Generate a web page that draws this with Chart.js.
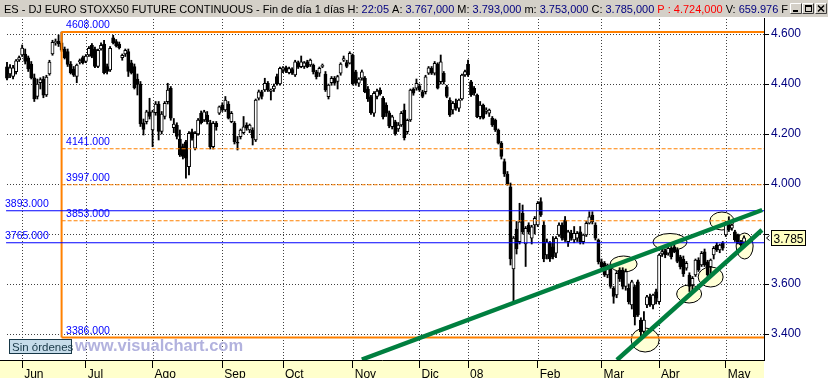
<!DOCTYPE html>
<html><head><meta charset="utf-8">
<script src="https://cdn.jsdelivr.net/npm/chart.js@4.4.1/dist/chart.umd.min.js"></script>
<style>html,body{margin:0;padding:0;background:#fff;overflow:hidden}canvas{display:block}</style>
</head><body>
<canvas id="c" width="828" height="378"></canvas>
<script>
// ---- DATA (daily candles, late May 2007 .. mid May 2008) ----
const opens = [4469,4440,4430,4449,4496,4516,4520,4505,4480,4425,4350,4405,4420,4356,4440,4520,4565,4572,4565,4540,
4530,4480,4460,4430,4488,4506,4490,4516,4555,4540,4470,4540,4560,4470,4456,4585,4570,4560,4505,4520,
4530,4485,4470,4420,4400,4245,4249,4289,4216,4285,4320,4210,4270,4329,4383,4225,4235,4180,4150,4169,
4069,4209,4143,4200,4283,4256,4276,4245,4149,4243,4283,4316,4296,4320,4249,4243,4165,4189,4205,4236,
4216,4216,4176,4343,4369,4376,4403,4370,4380,4430,4400,4456,4466,4445,4458,4436,4485,4469,4470,4489,
4476,4476,4449,4443,4470,4440,4349,4405,4423,4410,4443,4495,4486,4483,4515,4449,4403,4423,4423,4380,
4349,4283,4350,4376,4343,4316,4285,4229,4249,4220,4236,4296,4209,4256,4380,4383,4393,4369,4369,4443,
4463,4443,4479,4409,4443,4389,4336,4296,4323,4303,4340,4436,4479,4409,4383,4356,4269,4316,4290,4283,
4263,4256,4216,4163,4090,4040,3989,3660,3820,3769,3883,3760,3836,3783,3836,3836,3930,3836,3716,3763,
3749,3723,3796,3836,3856,3769,3803,3776,3783,3809,3769,3796,3843,3876,3836,3776,3689,3683,3636,3670,
3583,3556,3656,3656,3590,3583,3516,3589,3609,3456,3410,3516,3549,3516,3569,3529,3720,3733,3723,3743,
3749,3736,3709,3700,3663,3636,3596,3636,3696,3676,3729,3689,3669,3716,3756,3736,3763,3796,3843,3823,
3809,3796,3769,3767];
const highs = [4487,4478,4475,4498,4512,4556,4540,4512,4490,4440,4420,4425,4430,4435,4495,4575,4580,4596,4608,4548,
4540,4490,4470,4480,4500,4512,4518,4550,4562,4548,4540,4565,4575,4480,4550,4595,4578,4568,4520,4540,
4540,4495,4480,4440,4410,4260,4295,4343,4295,4330,4330,4290,4330,4403,4390,4262,4245,4216,4160,4175,
4210,4220,4210,4262,4292,4295,4290,4255,4250,4250,4312,4325,4350,4330,4290,4250,4190,4220,4270,4245,
4240,4225,4340,4376,4375,4423,4410,4380,4400,4440,4468,4470,4472,4468,4465,4495,4492,4512,4490,4495,
4500,4480,4455,4468,4480,4450,4400,4430,4430,4435,4485,4512,4495,4529,4520,4455,4425,4456,4430,4390,
4355,4370,4380,4385,4350,4325,4292,4275,4255,4246,4290,4320,4260,4380,4385,4420,4400,4375,4435,4470,
4470,4490,4485,4516,4450,4395,4345,4330,4340,4340,4440,4456,4496,4415,4390,4360,4330,4320,4305,4300,
4270,4260,4220,4170,4100,4050,4004,3790,3850,3923,3916,3830,3845,3835,3870,3930,3945,3850,3780,3770,
3790,3790,3845,3845,3870,3815,3815,3830,3810,3830,3800,3850,3889,3889,3845,3780,3700,3690,3680,3680,
3590,3650,3665,3665,3660,3600,3615,3595,3616,3465,3490,3555,3560,3560,3580,3720,3745,3740,3750,3750,
3770,3745,3715,3712,3690,3645,3630,3700,3705,3730,3740,3695,3700,3750,3765,3760,3770,3850,3869,3840,
3815,3800,3775,3793];
const lows = [4416,4425,4420,4440,4490,4510,4480,4450,4420,4330,4340,4380,4345,4350,4435,4515,4555,4550,4530,4500,
4470,4440,4430,4405,4480,4480,4485,4510,4505,4465,4465,4535,4440,4440,4450,4560,4548,4540,4495,4510,
4430,4440,4380,4356,4230,4196,4240,4260,4149,4275,4176,4200,4260,4320,4255,4205,4180,4110,4100,4023,
4036,4175,4136,4195,4240,4250,4240,4140,4140,4215,4278,4290,4290,4260,4245,4160,4136,4180,4200,4215,
4205,4156,4170,4336,4340,4370,4370,4336,4370,4395,4395,4445,4445,4440,4438,4430,4462,4465,4462,4465,
4470,4440,4420,4430,4465,4370,4340,4395,4395,4380,4435,4490,4465,4480,4396,4395,4390,4415,4365,4330,
4278,4270,4340,4355,4260,4270,4225,4220,4195,4210,4230,4176,4200,4250,4355,4375,4370,4345,4360,4438,
4438,4436,4380,4400,4400,4345,4270,4280,4295,4290,4335,4430,4430,4350,4355,4265,4260,4260,4280,4270,
4230,4210,4160,4100,4030,3995,3676,3523,3720,3760,3800,3670,3800,3760,3800,3830,3870,3689,3700,3690,
3700,3705,3790,3775,3770,3750,3775,3765,3770,3760,3760,3790,3840,3840,3776,3680,3660,3630,3625,3583,
3523,3545,3610,3580,3575,3520,3500,3436,3470,3386,3400,3505,3510,3500,3520,3520,3710,3705,3715,3700,
3725,3685,3660,3630,3655,3570,3570,3630,3650,3670,3670,3630,3640,3700,3730,3725,3735,3790,3810,3815,
3770,3760,3745,3753];
const closes = [4423,4465,4465,4493,4506,4544,4490,4460,4425,4340,4400,4418,4355,4428,4488,4567,4570,4560,4535,4505,
4478,4445,4435,4476,4494,4485,4512,4543,4510,4470,4535,4555,4445,4450,4543,4565,4552,4545,4515,4535,
4450,4445,4385,4398,4240,4218,4289,4270,4289,4320,4210,4280,4323,4376,4263,4240,4190,4116,4110,4103,
4203,4183,4203,4256,4245,4289,4249,4149,4243,4229,4309,4296,4336,4263,4283,4169,4163,4216,4229,4223,
4236,4183,4336,4369,4350,4403,4376,4376,4392,4400,4463,4465,4450,4462,4443,4489,4467,4489,4485,4469,
4496,4449,4429,4463,4475,4376,4396,4423,4403,4430,4480,4502,4470,4523,4400,4403,4420,4449,4369,4340,
4285,4363,4372,4360,4268,4283,4232,4269,4200,4236,4283,4185,4255,4376,4363,4403,4376,4350,4429,4465,
4443,4483,4383,4489,4409,4350,4276,4323,4303,4336,4436,4450,4436,4356,4363,4269,4316,4263,4296,4296,
4236,4216,4163,4110,4040,4000,3700,3784,3740,3849,3809,3823,3809,3829,3863,3923,3876,3700,3769,3700,
3709,3783,3836,3783,3776,3809,3783,3803,3803,3769,3796,3843,3869,3849,3783,3689,3669,3636,3676,3590,
3550,3643,3620,3590,3650,3529,3609,3469,3476,3409,3456,3549,3516,3556,3543,3716,3730,3716,3743,3709,
3729,3690,3669,3640,3683,3590,3623,3696,3656,3723,3676,3636,3696,3743,3736,3756,3743,3843,3816,3836,
3776,3769,3756,3785];

const monthTickIndex = [5, 26, 48, 71, 91, 114, 136, 152, 175, 196, 215, 237];
const monthLabels = ['Jun','Jul','Ago','Sep','Oct','Nov','Dic','08','Feb','Mar','Abr','May'];
const yTickValues = [3400, 3600, 3800, 4000, 4200, 4400, 4600];
const highDayIndex = 18;                       // day of the 4608 high
const orangeSolidLevels = [4608, 3386];
const orangeDashedLevels = [4141, 3997, 3853];
const orangeLabelLevels = [4608, 4141, 3997, 3853, 3386];
const orangeLabels = ['4608.000','4141.000','3997.000','3853.000','3386.000'];
const blueLevels = [3893, 3765];
const blueLabels = ['3893.000', '3765.000'];
const blueStartIndex = -0.3;
const upperTrend = [[117, 3298], [249, 3896]];
const lowerTrend = [[201.1, 3296], [248.9, 3816]];
const ellipseCenters = [[203.3,3680],[218.6,3768],[235.7,3852],[243.2,3752],[232.0,3628],[224.9,3560],[210.4,3376]];
const lastClose = 3785;

// ---- styles / layout ----
const ellipseRadii = [[13.5,8],[17,8.5],[12,9],[8.5,13],[12.5,10],[12.5,9],[14,12]];
const X_MIN = -7/3.033, X_MAX = X_MIN + 764/3.033;
const FONT = "'Liberation Sans', Arial, sans-serif";
Chart.defaults.font.family = FONT;

const idx = opens.map((_, i) => i);
const wickData = idx.map(i => ({x: i, y: [lows[i], highs[i]]}));
const bodyData = idx.map(i => ({x: i, y: [opens[i], closes[i]]}));
const bodyColors = idx.map(i => closes[i] >= opens[i] ? '#ffffff' : '#000000');

function seg(x1, y1, x2, y2) { return [{x: x1, y: y1}, {x: x2, y: y2}]; }
const lineDs = (data, color, width, dash, order) => ({
  type: 'line', data, borderColor: color, borderWidth: width, borderDash: dash || [],
  pointRadius: 0, pointHoverRadius: 0, fill: false, tension: 0, order, borderCapStyle: 'butt'
});

const datasets = [
  {type: 'bar', data: wickData, backgroundColor: '#000', borderWidth: 0, barThickness: 1.2, grouped: false, order: 10},
  {type: 'bar', data: bodyData, backgroundColor: bodyColors, borderColor: '#000', borderWidth: 1,
   borderSkipped: false, barThickness: 3.2, grouped: false, minBarLength: 1, order: 9},
];
orangeSolidLevels.forEach(v => datasets.push(lineDs(seg(highDayIndex, v, X_MAX, v), '#ff8000', 2, null, 5)));
datasets.push(lineDs(seg(highDayIndex, orangeSolidLevels[1], highDayIndex, orangeSolidLevels[0]), '#ff8000', 2, null, 5));
orangeDashedLevels.forEach(v => datasets.push(lineDs(seg(highDayIndex, v, X_MAX, v), '#ff8000', 1, [4, 2], 5)));
blueLevels.forEach(v => datasets.push(lineDs(seg(blueStartIndex, v, X_MAX, v), '#0000ff', 1, null, 4)));
datasets.push(lineDs(seg(upperTrend[0][0], upperTrend[0][1], upperTrend[1][0], upperTrend[1][1]), '#007f3f', 4.5, null, 1));
datasets.push(lineDs(seg(lowerTrend[0][0], lowerTrend[0][1], lowerTrend[1][0], lowerTrend[1][1]), '#007f3f', 4.5, null, 1));

const bgPlugin = {
  id: 'bg',
  beforeDraw(chart) {
    const {ctx, chartArea: a} = chart;
    ctx.save();
    ctx.fillStyle = '#ffffff'; ctx.fillRect(0, 0, 828, 378);
    ctx.fillStyle = '#ffffcc'; ctx.fillRect(0, a.bottom, a.right, 378 - a.bottom);
    ctx.restore();
  }
};

// dotted grid at the scales' own tick positions (pixel dots), then the highlight ellipses
const underlayPlugin = {
  id: 'underlay',
  beforeDatasetsDraw(chart) {
    const {ctx, chartArea: a, scales: {x, y}} = chart;
    ctx.save();
    ctx.fillStyle = '#404040';
    y.ticks.forEach(t => {
      const py = Math.round(y.getPixelForValue(t.value));
      for (let px = Math.round(a.left) + 7; px < a.right; px += 3) ctx.fillRect(px, py, 1, 1);
    });
    x.ticks.forEach(t => {
      const px = Math.round(x.getPixelForValue(t.value));
      for (let py = Math.round(a.top) + 1; py < a.bottom; py += 3) ctx.fillRect(px, py, 1, 1);
    });
    ctx.beginPath(); ctx.rect(a.left, a.top, a.right - a.left, a.bottom - a.top); ctx.clip();
    ellipseCenters.forEach((c, k) => {
      const px = x.getPixelForValue(c[0]), py = y.getPixelForValue(c[1]);
      ctx.beginPath();
      ctx.ellipse(px, py, ellipseRadii[k][0], ellipseRadii[k][1], 0, 0, Math.PI * 2);
      ctx.fillStyle = '#ffffd6'; ctx.fill();
      ctx.lineWidth = 1; ctx.strokeStyle = '#000'; ctx.stroke();
    });
    ctx.restore();
  }
};

const overlayPlugin = {
  id: 'overlay',
  afterDraw(chart) {
    const {ctx, chartArea: a, scales: {x, y}} = chart;
    ctx.save();
    // level labels
    ctx.font = '10.5px ' + FONT; ctx.textBaseline = 'alphabetic'; ctx.fillStyle = '#0000ff';
    const lx = x.getPixelForValue(highDayIndex) + 4.5;
    orangeLabelLevels.forEach((v, k) => ctx.fillText(orangeLabels[k], lx, y.getPixelForValue(v) - 4));
    blueLevels.forEach((v, k) => ctx.fillText(blueLabels[k], a.left + 5, y.getPixelForValue(v) - 4));

    // watermark + status box
    ctx.font = 'bold 16.5px ' + FONT;
    ctx.fillStyle = 'rgb(178,178,222)';
    ctx.fillText('www.visualchart.com', 75, 351);
    ctx.fillStyle = '#c6dcea'; ctx.fillRect(9.5, 339.5, 62, 14);
    ctx.strokeStyle = '#173746'; ctx.lineWidth = 1; ctx.strokeRect(9.5, 339.5, 62, 14);
    ctx.font = '11.5px ' + FONT; ctx.fillStyle = '#173746';
    ctx.fillText('Sin órdenes', 12, 351);

    // last price marker
    const py = Math.round(y.getPixelForValue(lastClose));
    ctx.fillStyle = '#ffffc0'; ctx.fillRect(771.5, py - 7.5, 34, 15);
    ctx.strokeStyle = '#000'; ctx.strokeRect(771.5, py - 7.5, 34, 15);
    ctx.fillStyle = '#000'; ctx.font = '12px ' + FONT; ctx.textAlign = 'center';
    ctx.fillText((lastClose / 1000).toFixed(3), 788.5, py + 4.5);
    ctx.textAlign = 'left';
    ctx.beginPath(); ctx.moveTo(769.5, py - 2.5); ctx.lineTo(766.5, py); ctx.lineTo(769.5, py + 2.5); ctx.stroke();

    // title bar
    ctx.fillStyle = '#d4d0c8'; ctx.fillRect(0, 0, 828, 17);
    const parts = [
      ['ES - DJ EURO STOXX50 FUTURE CONTINUOUS - Fin de día 1 días ', '#000'], ['H: ', '#000'], ['22:05', '#000080'],
      [' A: ', '#000'], ['3.767,000', '#000080'], [' M: ', '#000'], ['3.793,000', '#000080'],
      [' m: ', '#000'], ['3.753,000', '#000080'], [' C: ', '#000'], ['3.785,000', '#000080'],
      [' P : 4.724,000', '#ff0000'], [' V: ', '#000'], ['659.976', '#000080'], [' F', '#000']];
    let fs = 11;
    ctx.font = fs + 'px ' + FONT;
    let w = parts.reduce((s, p) => s + ctx.measureText(p[0]).width, 0);
    fs = fs * 785 / w; ctx.font = fs.toFixed(2) + 'px ' + FONT;
    let tx = 4;
    parts.forEach(p => { ctx.fillStyle = p[1]; ctx.fillText(p[0], tx, 13); tx += ctx.measureText(p[0]).width; });
    // window buttons
    const btn = (bx, glyph) => {
      ctx.fillStyle = '#d4d0c8'; ctx.fillRect(bx, 3, 12, 11);
      ctx.strokeStyle = '#fff'; ctx.beginPath(); ctx.moveTo(bx + 0.5, 13.5); ctx.lineTo(bx + 0.5, 3.5); ctx.lineTo(bx + 11.5, 3.5); ctx.stroke();
      ctx.strokeStyle = '#404040'; ctx.beginPath(); ctx.moveTo(bx + 0.5, 13.5); ctx.lineTo(bx + 11.5, 13.5); ctx.lineTo(bx + 11.5, 3.5); ctx.stroke();
      ctx.strokeStyle = '#000'; ctx.fillStyle = '#000'; ctx.lineWidth = 1;
      if (glyph === 0) ctx.fillRect(bx + 3, 10, 5, 2);
      if (glyph === 1) { ctx.strokeRect(bx + 3.5, 5.5, 6, 6); ctx.fillRect(bx + 3, 5, 7, 2); }
      if (glyph === 2) { ctx.lineWidth = 1.5; ctx.beginPath(); ctx.moveTo(bx + 3, 5.5); ctx.lineTo(bx + 9, 11.5); ctx.moveTo(bx + 9, 5.5); ctx.lineTo(bx + 3, 11.5); ctx.stroke(); ctx.lineWidth = 1; }
    };
    btn(790, 0); btn(802, 1); btn(815, 2);
    ctx.restore();
  }
};

new Chart(document.getElementById('c'), {
  type: 'bar',
  data: {datasets},
  plugins: [bgPlugin, underlayPlugin, overlayPlugin],
  options: {
    responsive: false, animation: false, devicePixelRatio: 1,
    layout: {padding: {top: 18, left: 0, right: 0, bottom: 0}},
    plugins: {legend: {display: false}, tooltip: {enabled: false}},
    events: [],
    scales: {
      x: {
        type: 'linear', min: X_MIN, max: X_MAX, offset: false,
        afterBuildTicks: s => { s.ticks = monthTickIndex.map(v => ({value: v})); },
        afterFit: s => { s.height = 18; },
        ticks: {
          autoSkip: false, maxRotation: 0, minRotation: 0, align: 'start', labelOffset: 2, padding: -1,
          color: '#000', font: {size: 12, family: FONT},
          callback: v => { const k = monthTickIndex.indexOf(v); return k >= 0 ? monthLabels[k] : ''; }
        },
        grid: {display: true, drawOnChartArea: false, color: '#000', lineWidth: 1, drawTicks: true, tickLength: 8, tickColor: '#000', offset: false},
        border: {display: true, color: '#000', width: 1}
      },
      y: {
        type: 'linear', position: 'right', min: 3296, max: 4664,
        afterBuildTicks: s => { s.ticks = yTickValues.map(v => ({value: v})); },
        afterFit: s => { s.width = 64; },
        ticks: {
          color: '#000080', padding: 2, font: {size: 12, family: FONT},
          callback: v => v === 3800 ? '' : (v / 1000).toFixed(3)
        },
        grid: {display: true, drawOnChartArea: false, color: '#000', lineWidth: 1, drawTicks: true, tickLength: 5, tickColor: '#000'},
        border: {display: true, color: '#000', width: 1}
      }
    }
  }
});
</script>
</body></html>
